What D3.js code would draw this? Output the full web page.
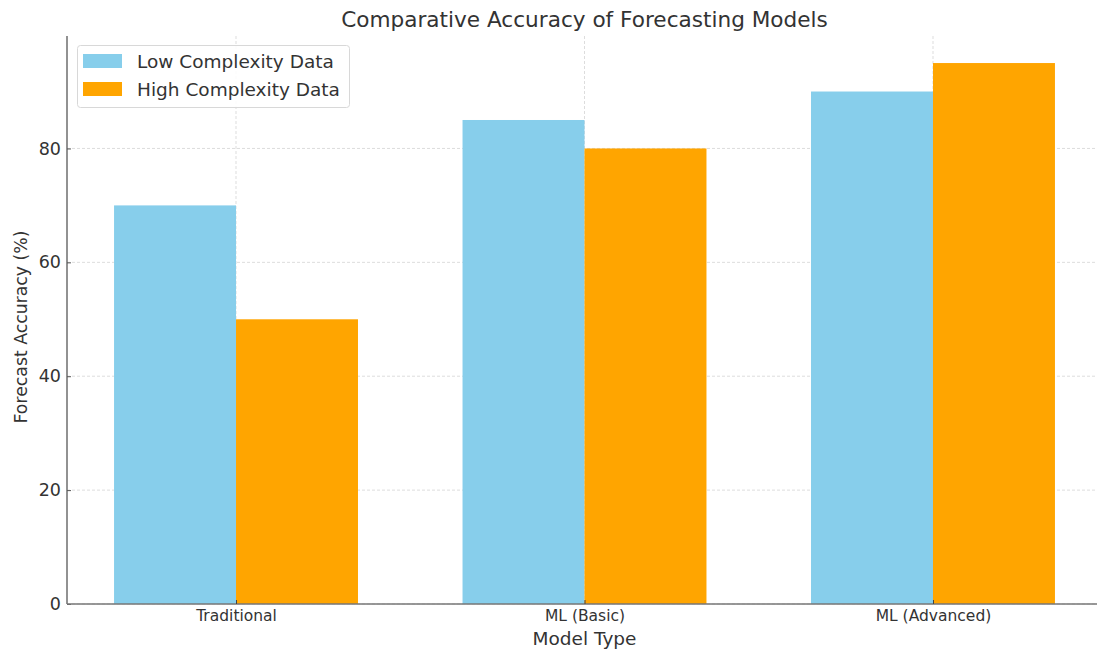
<!DOCTYPE html>
<html><head><meta charset="utf-8">
<script src="https://cdn.jsdelivr.net/npm/d3@7"></script>
<style>
body{margin:0;background:#fff;}
text{font-family:"DejaVu Sans",sans-serif;fill:#333;}
</style></head>
<body><svg id="c" width="1097" height="652"></svg>
<script>
const categories = ["Traditional", "ML (Basic)", "ML (Advanced)"];
const lowComplexity = [70, 85, 90];
const highComplexity = [50, 80, 95];
const seriesNames = ["Low Complexity Data", "High Complexity Data"];
const seriesColors = ["#87CEEB", "#FFA500"];
const yTicks = [0, 20, 40, 60, 80];

(function(){
const svg = d3.select("#c");
const mL = 67, mB = 604, mT = 36, mR = 1102;
const barW = 0.35;
const x = d3.scaleLinear().domain([-0.485, 2.485]).range([mL, mR]);
const y = d3.scaleLinear().domain([0, 99.75]).range([mB, mT]);

// grid
const g = svg.append("g");
g.selectAll("line.hg").data(yTicks).enter().append("line")
  .attr("x1", mL).attr("x2", mR).attr("y1", d => y(d)).attr("y2", d => y(d))
  .attr("stroke", "#d4d4d4").attr("stroke-width", 0.8).attr("stroke-dasharray", "3,2");
g.selectAll("line.vg").data(categories).enter().append("line")
  .attr("x1", (d,i) => x(i)).attr("x2", (d,i) => x(i)).attr("y1", mT).attr("y2", mB)
  .attr("stroke", "#d4d4d4").attr("stroke-width", 0.8).attr("stroke-dasharray", "3,2");

// bars
const series = [lowComplexity, highComplexity];
series.forEach((vals, s) => {
  svg.append("g").selectAll("rect").data(vals).enter().append("rect")
    .attr("x", (d,i) => x(i - barW + s*barW))
    .attr("width", x(barW) - x(0))
    .attr("y", d => y(d))
    .attr("height", d => y(0) - y(d))
    .attr("fill", seriesColors[s]);
});

// axes (ticks pointing inward)
const yAxis = d3.axisLeft(y).tickValues(yTicks).tickSize(-4).tickPadding(6);
const ya = svg.append("g").attr("transform", `translate(${mL},0)`).call(yAxis);
ya.select(".domain").attr("stroke", "#777").attr("stroke-width", 1.6).attr("d", `M0,${mT}V${mB}`);
ya.selectAll(".tick line").attr("stroke", "#555");
ya.selectAll(".tick text").style("font-size", "17.5px").style("font-family", "DejaVu Sans").attr("fill", "#333");

const xAxis = d3.axisBottom(x).tickValues([0,1,2]).tickFormat((d) => categories[d]).tickSize(-4).tickPadding(6);
const xa = svg.append("g").attr("transform", `translate(0,${mB})`).call(xAxis);
xa.select(".domain").attr("stroke", "#777").attr("stroke-width", 1.6).attr("d", `M${mL},0H${mR}`);
xa.selectAll(".tick line").attr("stroke", "#444");
xa.selectAll(".tick text").style("font-size", "15.5px").style("font-family", "DejaVu Sans").attr("fill", "#333");

// title and labels
svg.append("text").attr("x", x(1)).attr("y", 27).attr("text-anchor", "middle")
  .style("font-size", "21.6px").text("Comparative Accuracy of Forecasting Models");
svg.append("text").attr("x", x(1)).attr("y", 645).attr("text-anchor", "middle")
  .style("font-size", "18.5px").text("Model Type");
svg.append("text").attr("transform", `translate(27,327) rotate(-90)`).attr("text-anchor", "middle")
  .style("font-size", "17.3px").text("Forecast Accuracy (%)");

// legend
const lg = svg.append("g");
lg.append("rect").attr("x", 77.5).attr("y", 45.5).attr("width", 272).attr("height", 62).attr("rx", 3)
  .attr("fill", "rgba(255,255,255,0.85)").attr("stroke", "#d8d8d8");
seriesNames.forEach((n, i) => {
  lg.append("rect").attr("x", 83).attr("y", 54 + i*28).attr("width", 39).attr("height", 14).attr("fill", seriesColors[i]);
  lg.append("text").attr("x", 137).attr("y", 67.5 + i*28).style("font-size", "18.5px").text(n);
});
})();
</script></body></html>
